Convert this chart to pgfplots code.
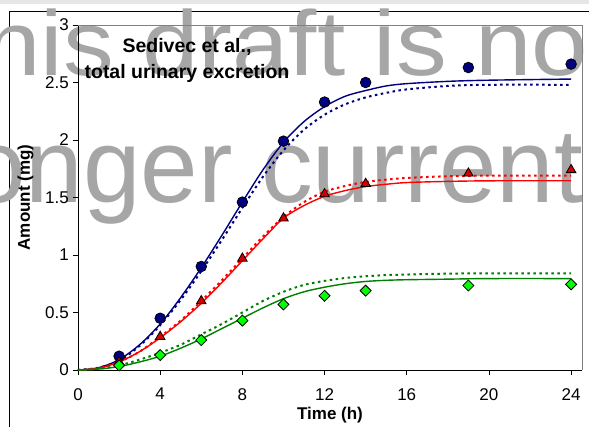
\documentclass[border=0pt]{standalone}
\usepackage{fontspec}
\setmainfont{Liberation Sans}
\usepackage{pgfplots}
\pgfplotsset{compat=1.18}
\definecolor{navyc}{HTML}{000080}
\definecolor{redl}{HTML}{FF0000}
\definecolor{redm}{HTML}{D40000}
\definecolor{greenl}{HTML}{008000}
\definecolor{greenm}{HTML}{00FF00}
\definecolor{wm}{HTML}{A6A6A6}
\definecolor{strip}{HTML}{E6E6E6}
\begin{document}
\begin{tikzpicture}[x=1pt,y=1pt]
\useasboundingbox (0,0) rectangle (589,426);
\begin{scope}
\clip (0,0) rectangle (589,426);
\fill[white] (0,0) rectangle (589,426);
\fill[strip] (0,422) rectangle (589,426);
\draw[black, line width=1pt] (9,-10) -- (9,414.3) -- (600,414.3);
% watermark
\node[anchor=base west, inner sep=0pt, text=wm] at (-78,350)
  {\scalebox{1.104}[1]{\fontsize{92}{92}\selectfont This draft is not}};
\node[anchor=base west, inner sep=0pt, text=wm] at (-55,223)
  {\scalebox{0.985}[1]{\fontsize{105}{105}\selectfont longer current}};
\begin{axis}[
  scale only axis, width=504pt, height=345pt,
  at={(78pt,56pt)}, anchor=south west,
  xmin=0, xmax=24.53, ymin=0, ymax=3,
  axis x line*=bottom, axis y line*=left,
  axis line style={-, black, line width=0.9pt},
  xtick={0,4,...,24}, ytick={0,0.5,...,3},
  xtick pos=left, ytick pos=left,
  tick align=outside, major tick length=5pt,
  tick style={black, line width=0.8pt},
  minor tick num=0,
  /pgf/number format/assume math mode=true,
  every tick label/.append style={font=\fontsize{17}{20}\selectfont},
  xticklabel style={inner sep=0pt, anchor=north, yshift=-13pt},
  yticklabel style={inner sep=0pt, anchor=east, xshift=-4pt},
  xlabel={\textbf{Time (h)}}, ylabel={\textbf{Amount (mg)}},
  every axis x label/.style={at={(axis description cs:0.5,0)}, anchor=base, yshift=-49pt, font=\fontsize{17}{20}\selectfont},
  every axis y label/.style={at={(axis description cs:0,0.5)}, rotate=90, anchor=center, yshift=52.5pt, font=\fontsize{17}{20}\selectfont},
  clip=false,
]
\draw[gray, line width=0.8pt] (rel axis cs:0,1) -- (rel axis cs:1,1) -- (rel axis cs:1,0);
% model curves: solid
\addplot[navyc, line width=1.4pt, smooth] coordinates {
(0,0) (1,0.02) (2,0.09) (3,0.22) (4,0.40) (5,0.63) (6,0.89) (7,1.17) (8,1.46) (9,1.74) (10,1.98) (11,2.16) (12,2.29) (13,2.38) (14,2.43) (15,2.47) (16,2.49) (18,2.51) (20,2.52) (24,2.53)};
\addplot[navyc, line width=2pt, dash pattern=on 2.5pt off 3.5pt, smooth] coordinates {
(0,0) (1,0.02) (2,0.08) (3,0.21) (4,0.39) (5,0.61) (6,0.86) (7,1.13) (8,1.41) (9,1.68) (10,1.91) (11,2.09) (12,2.22) (13,2.31) (14,2.37) (15,2.41) (16,2.44) (18,2.47) (20,2.48) (24,2.48)};
\addplot[redl, line width=1.4pt, smooth] coordinates {
(0,0) (1,0.015) (2,0.07) (3,0.16) (4,0.28) (5,0.42) (6,0.58) (7,0.76) (8,0.95) (9,1.14) (10,1.32) (11,1.43) (12,1.51) (13,1.56) (14,1.595) (15,1.615) (16,1.63) (18,1.64) (20,1.645) (24,1.646)};
\addplot[redl, line width=2pt, dash pattern=on 2.5pt off 3.5pt, smooth] coordinates {
(0,0) (1,0.015) (2,0.07) (3,0.16) (4,0.29) (5,0.43) (6,0.60) (7,0.78) (8,0.97) (9,1.16) (10,1.33) (11,1.46) (12,1.55) (13,1.60) (14,1.635) (15,1.655) (16,1.67) (18,1.685) (20,1.69) (24,1.69)};
\addplot[greenl, line width=1.4pt, smooth] coordinates {
(0,0) (1,0.008) (2,0.03) (3,0.07) (4,0.12) (5,0.19) (6,0.27) (7,0.36) (8,0.45) (9,0.54) (10,0.62) (11,0.68) (12,0.72) (13,0.75) (14,0.77) (15,0.78) (16,0.785) (18,0.79) (20,0.795) (24,0.795)};
\addplot[greenl, line width=2pt, dash pattern=on 2.5pt off 3.5pt, smooth] coordinates {
(0,0) (1,0.01) (2,0.04) (3,0.09) (4,0.15) (5,0.22) (6,0.31) (7,0.40) (8,0.50) (9,0.60) (10,0.68) (11,0.74) (12,0.775) (13,0.80) (14,0.815) (15,0.825) (16,0.83) (18,0.838) (20,0.84) (24,0.84)};
% observed
\addplot[only marks, mark=*, mark size=5.3pt, mark options={fill=navyc, draw=black, line width=0.8pt}] coordinates {
(2,0.12) (4,0.45) (6,0.90) (8,1.46) (10,1.99) (12,2.33) (14,2.50) (19,2.63) (24,2.66)};
\addplot[only marks, mark=triangle*, mark size=5.5pt, mark options={fill=redm, draw=black, line width=0.8pt}] coordinates {
(2,0.07) (4,0.29) (6,0.60) (8,0.97) (10,1.32) (12,1.53) (14,1.62) (19,1.71) (24,1.74)};
\addplot[only marks, mark=square*, mark size=3.9pt, mark options={rotate=45, fill=greenm, draw=black, line width=0.8pt}] coordinates {
(2,0.04) (4,0.13) (6,0.26) (8,0.43) (10,0.57) (12,0.645) (14,0.69) (19,0.735) (24,0.745)};
\end{axis}
% title
\node[anchor=base, inner sep=0pt, font=\bfseries\fontsize{19.5}{22}\selectfont] at (187,373) {Sedivec et al.,};
\node[anchor=base, inner sep=0pt, font=\bfseries\fontsize{19.5}{22}\selectfont] at (187,347) {total urinary excretion};
\end{scope}
\end{tikzpicture}
\end{document}
